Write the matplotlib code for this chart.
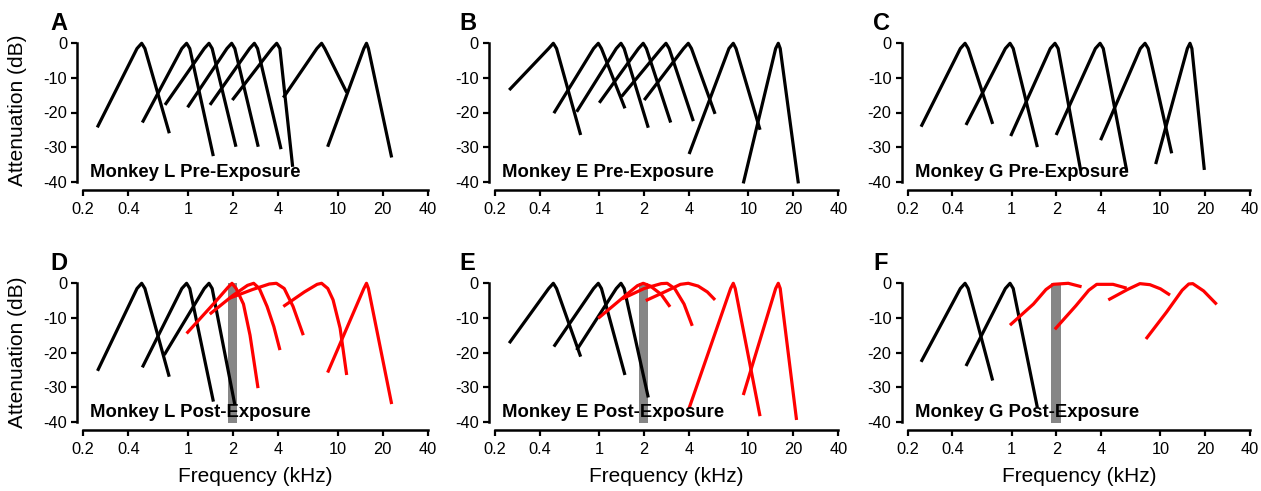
import matplotlib
matplotlib.use('Agg')
import matplotlib.pyplot as plt
from matplotlib.ticker import NullLocator, FixedLocator, FixedFormatter
from matplotlib.transforms import blended_transform_factory

plt.rcParams['font.family'] = ['Liberation Sans', 'DejaVu Sans']

# ---------------- data ----------------
freq_ticks = [0.2, 0.4, 1, 2, 4, 10, 20, 40]
freq_tick_labels = ['0.2', '0.4', '1', '2', '4', '10', '20', '40']
atten_ticks = [0, -10, -20, -30, -40]
noise_band = [1.85, 2.13]          # kHz, exposure band (grey bar)
noise_depth = [-40.5, 0]

# each curve: list of (frequency kHz, attenuation dB) points
L_pre = [
    [(0.248, -24.3), (0.457, -1.5), (0.491, 0), (0.516, -1.5), (0.751, -26.0)],
    [(0.496, -22.9), (0.911, -1.5), (0.98, 0), (1.029, -1.5), (1.478, -32.6)],
    [(0.703, -17.8), (1.286, -1.5), (1.383, 0), (1.452, -1.5), (2.094, -29.9)],
    [(0.995, -18.5), (1.823, -1.5), (1.96, 0), (2.058, -1.5), (2.95, -29.9)],
    [(1.404, -17.8), (2.585, -1.5), (2.78, 0), (2.919, -1.5), (4.19, -30.6)],
    [(1.98, -16.4), (3.646, -1.5), (3.92, 0), (4.116, -1.5), (5.01, -35.7)],
    [(4.34, -15.7), (7.273, -1.5), (7.82, 0), (8.211, -1.5), (11.5, -14.2)],
    [(8.58, -29.9), (14.98, -1.5), (15.6, 0), (16.07, -1.5), (22.97, -33.0)],
]
E_pre = [
    [(0.249, -13.5), (0.458, -1.5), (0.492, 0), (0.517, -1.5), (0.75, -26.5)],
    [(0.496, -20.2), (0.916, -1.5), (0.985, 0), (1.034, -1.5), (1.486, -18.8)],
    [(0.705, -19.8), (1.300, -1.5), (1.398, 0), (1.468, -1.5), (2.13, -24.4)],
    [(1.0, -17.2), (1.832, -1.5), (1.97, 0), (2.069, -1.5), (3.01, -22.9)],
    [(1.41, -15.4), (2.604, -1.5), (2.8, 0), (2.94, -1.5), (4.27, -22.5)],
    [(2.0, -16.4), (3.674, -1.5), (3.95, 0), (4.148, -1.5), (5.97, -20.4)],
    [(4.0, -32.0), (7.40, -1.5), (7.91, 0), (8.25, -1.5), (11.95, -25.0)],
    [(9.23, -40.5), (15.21, -1.5), (15.84, 0), (16.32, -1.5), (21.6, -40.5)],
]
G_pre = [
    [(0.246, -24.1), (0.452, -1.5), (0.486, 0), (0.510, -1.5), (0.745, -23.3)],
    [(0.493, -23.6), (0.907, -1.5), (0.975, 0), (1.024, -1.5), (1.488, -30.0)],
    [(0.985, -26.8), (1.818, -1.5), (1.955, 0), (2.053, -1.5), (2.91, -36.8)],
    [(1.99, -26.5), (3.655, -1.5), (3.93, 0), (4.127, -1.5), (5.93, -36.8)],
    [(3.96, -28.0), (7.328, -1.5), (7.88, 0), (8.274, -1.5), (11.9, -31.8)],
    [(9.29, -34.9), (15.17, -1.5), (15.8, 0), (16.27, -1.5), (19.73, -36.6)],
]
L_post_normal = [
    [(0.249, -25.3), (0.457, -1.5), (0.491, 0), (0.516, -1.5), (0.75, -27.0)],
    [(0.496, -24.3), (0.911, -1.5), (0.98, 0), (1.029, -1.5), (1.48, -34.2)],
    [(0.695, -20.7), (1.286, -1.5), (1.383, 0), (1.452, -1.5), (2.06, -35.2)],
]
L_post_broad = [
    [(0.98, -14.5), (1.5, -5.7), (1.85, -1.2), (1.97, 0), (2.1, -1.5), (2.35, -6.0),
     (2.6, -15.0), (2.94, -30.3)],
    [(1.40, -8.9), (2.0, -3.5), (2.5, -0.6), (2.75, 0), (3.0, -1.5), (3.38, -6.7),
     (3.75, -12.5), (4.12, -19.3)],
    [(1.9, -4.3), (2.7, -1.8), (3.5, -0.2), (3.9, 0), (4.4, -1.5), (5.04, -6.7), (5.9, -15.0)],
    [(4.34, -6.7), (6.0, -2.5), (7.3, -0.3), (7.82, 0), (8.6, -1.5), (9.33, -4.8),
     (10.4, -13.0), (11.5, -26.5)],
    [(8.58, -25.8), (14.98, -1.5), (15.6, 0), (16.07, -1.5), (22.97, -34.9)],
]
E_post_normal = [
    [(0.249, -17.3), (0.458, -1.5), (0.492, 0), (0.517, -1.5), (0.75, -21.2)],
    [(0.496, -18.3), (0.916, -1.5), (0.985, 0), (1.034, -1.5), (1.486, -26.5)],
    [(0.705, -19.3), (1.300, -1.5), (1.398, 0), (1.468, -1.5), (2.13, -33.0)],
]
E_post_broad = [
    [(0.985, -10.1), (1.5, -3.5), (1.8, -0.7), (1.97, 0), (2.2, -0.8), (2.6, -3.2), (2.98, -6.8)],
    [(1.42, -4.5), (2.0, -1.5), (2.6, -0.1), (2.85, 0), (3.2, -1.5), (3.7, -6.0), (4.2, -12.3)],
    [(2.05, -5.0), (2.8, -2.3), (3.5, -0.3), (3.95, 0), (4.6, -0.8), (5.3, -2.5), (5.97, -4.8)],
    [(4.0, -36.1), (7.59, -1.5), (7.91, 0), (8.15, -1.5), (11.95, -38.4)],
    [(9.23, -32.3), (15.21, -1.5), (15.84, 0), (16.32, -1.5), (21.0, -39.5)],
]
G_post_normal = [
    [(0.246, -22.7), (0.452, -1.5), (0.486, 0), (0.510, -1.5), (0.745, -28.1)],
    [(0.493, -23.9), (0.907, -1.5), (0.975, 0), (1.024, -1.5), (1.488, -35.9)],
]
G_post_broad = [
    [(0.974, -12.1), (1.4, -6.0), (1.7, -1.8), (1.9, -0.3), (2.4, 0), (2.95, -1.0)],
    [(1.95, -13.3), (2.7, -6.5), (3.3, -2.0), (3.73, -0.3), (4.8, -0.3), (5.93, -1.4)],
    [(4.46, -4.8), (6.0, -1.8), (7.28, -0.1), (8.5, -0.4), (10.0, -1.6), (11.6, -3.4)],
    [(7.99, -16.1), (11.0, -8.3), (14.0, -2.0), (15.5, -0.2), (16.5, -0.1), (19.5, -2.2),
     (23.9, -6.1)],
]

panel_letters = ['A', 'B', 'C', 'D', 'E', 'F']
panel_titles = ['Monkey L Pre-Exposure', 'Monkey E Pre-Exposure', 'Monkey G Pre-Exposure',
                'Monkey L Post-Exposure', 'Monkey E Post-Exposure', 'Monkey G Post-Exposure']

# ---------------- figure ----------------
W, H = 1261, 491
fig = plt.figure(figsize=(W / 100, H / 100), dpi=100)

lefts = [83.3, 495.0, 907.7]
widths = [344.4, 343.3, 342.3]
tops = [43.3, 283.3]
ax_h = 138.4

panels = [
    (L_pre, [], False), (E_pre, [], False), (G_pre, [], False),
    (L_post_normal, L_post_broad, True), (E_post_normal, E_post_broad, True),
    (G_post_normal, G_post_broad, True),
]

LW = 2.3
for i, (black, red, post) in enumerate(panels):
    row, col = divmod(i, 3)
    l = lefts[col] / W
    b = 1 - (tops[row] + ax_h) / H
    ax = fig.add_axes([l, b, widths[col] / W, ax_h / H])
    ax.set_xscale('log')
    ax.set_xlim(0.2, 40)
    ax.set_ylim(-40, 0)
    if post:
        ax.fill_betweenx(noise_depth, noise_band[0], noise_band[1], color='#868686',
                         lw=0, zorder=1, clip_on=False)
    for c in black:
        f, d = zip(*c)
        ax.plot(f, d, color='black', lw=LW, solid_joinstyle='round',
                solid_capstyle='butt', clip_on=False, zorder=3)
    for c in red:
        f, d = zip(*c)
        ax.plot(f, d, color='#ff0000', lw=LW, solid_joinstyle='round',
                solid_capstyle='butt', clip_on=False, zorder=3)
    trans = blended_transform_factory(ax.transAxes, ax.transData)
    ax.text(7 / widths[col], -38.6, panel_titles[i], transform=trans,
            fontsize=13.3, fontweight='bold', ha='left', va='baseline', zorder=4)
    for s in ['top', 'right']:
        ax.spines[s].set_visible(False)
    ax.spines['left'].set_position(('outward', 4.4))
    ax.spines['bottom'].set_position(('outward', 5.8))
    ax.spines['left'].set_bounds(-40, 0)
    ax.spines['bottom'].set_bounds(0.2, 40)
    ax.spines['left'].set_linewidth(1.8)
    ax.spines['bottom'].set_linewidth(1.8)
    ax.xaxis.set_major_locator(FixedLocator(freq_ticks))
    ax.xaxis.set_major_formatter(FixedFormatter(freq_tick_labels))
    ax.xaxis.set_minor_locator(NullLocator())
    ax.set_yticks(atten_ticks)
    ax.set_yticklabels([str(t) for t in atten_ticks])
    ax.tick_params(axis='both', which='major', direction='out', length=4.5, width=1.6,
                   labelsize=11.8)
    ax.tick_params(axis='y', pad=2.8)
    ax.tick_params(axis='x', pad=4.5)
    ax.patch.set_visible(False)

# panel letters
letter_x = [50, 459, 873]
letter_y = [23.5, 263.5]
for i, let in enumerate(panel_letters):
    row, col = divmod(i, 3)
    fig.text(letter_x[col] / W, 1 - letter_y[row] / H, let, fontsize=17,
             fontweight='bold', ha='left', va='center')

# axis labels
for yc in [110, 352]:
    fig.text(18 / W, 1 - yc / H, 'Attenuation (dB)', rotation=90, fontsize=15,
             ha='center', va='center')
for col in range(3):
    xc = lefts[col] + widths[col] / 2
    fig.text(xc / W, 1 - 477 / H, 'Frequency (kHz)', fontsize=15, ha='center', va='center')

fig.savefig('out.png', dpi=100)
